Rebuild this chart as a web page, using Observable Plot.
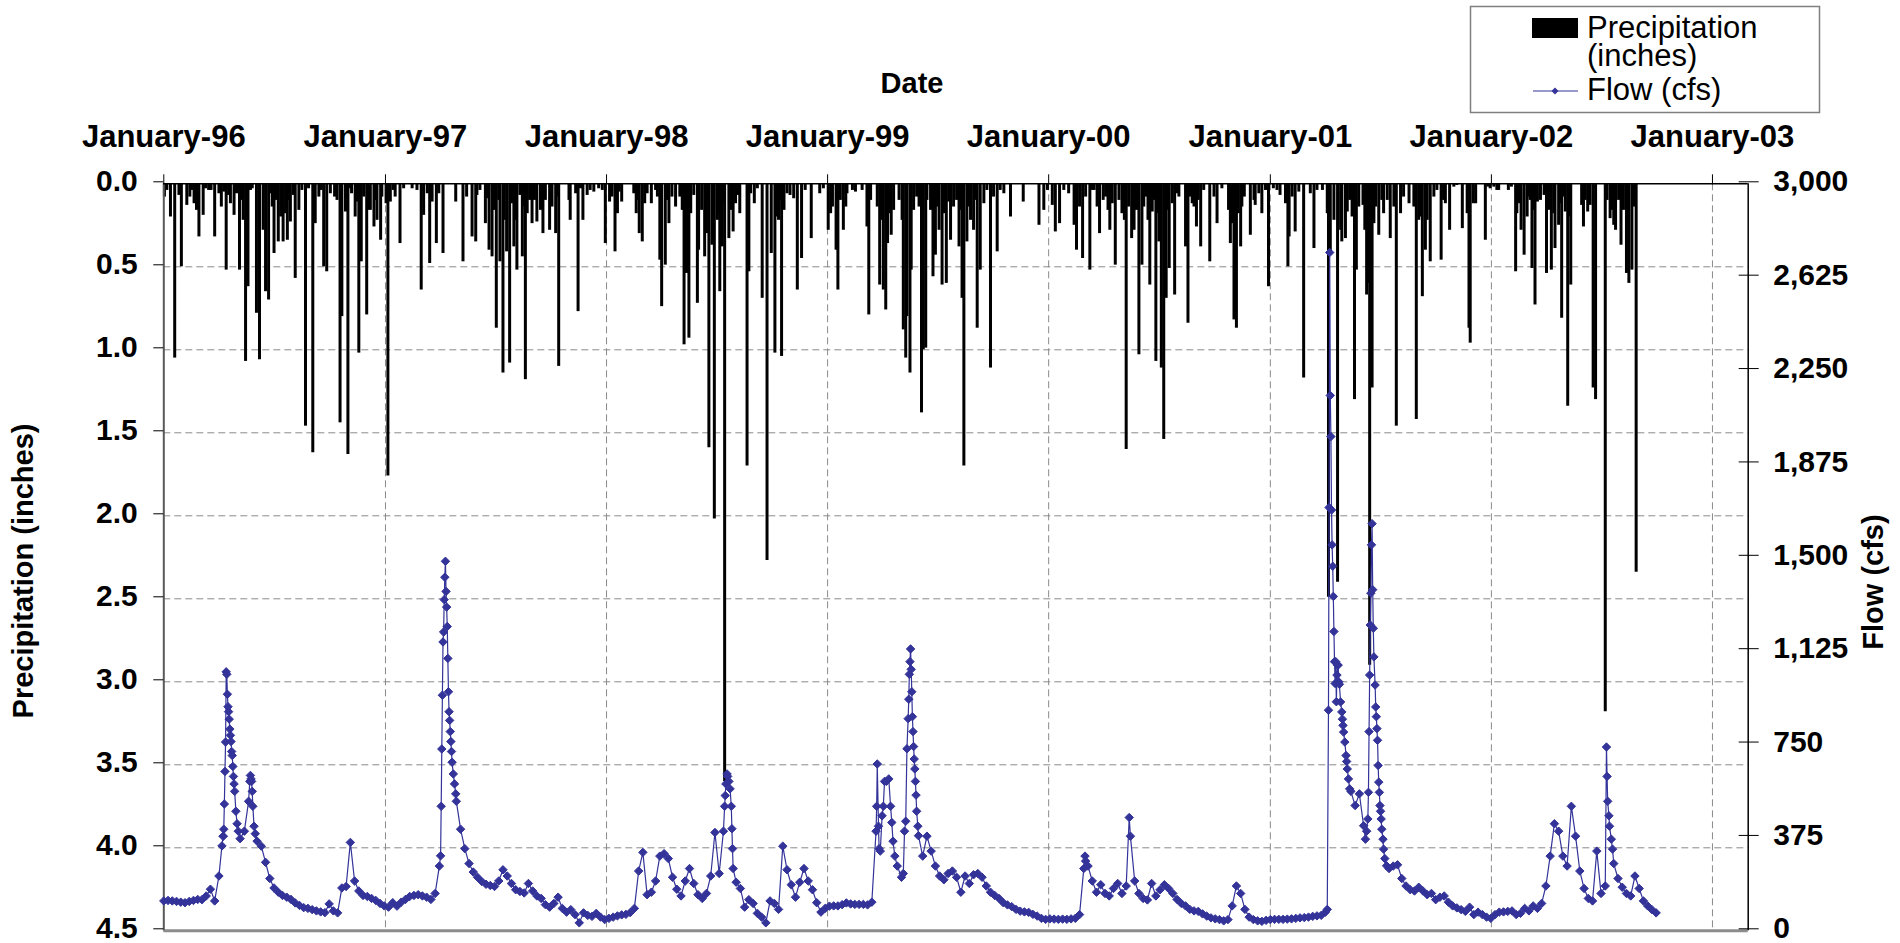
<!DOCTYPE html>
<html>
<head>
<meta charset="utf-8">
<script src="https://cdn.jsdelivr.net/npm/d3@7"></script>
<script src="https://cdn.jsdelivr.net/npm/@observablehq/plot@0.6"></script>
<style>
  html, body { margin: 0; padding: 0; background: #fff; overflow: hidden; }
  #chart { position: relative; width: 1900px; height: 943px; font-family: "Liberation Sans", Arial, sans-serif; }
  #chart svg { position: absolute; left: 0; top: 0; }
</style>
</head>
<body>
<div id="chart"></div>
<script>
// Daily precipitation, [day number counted from 1 Jan 1996, inches]
const precip1996 = [[1,0.08],[5,0.04],[11,0.2],[18,1.05],[25,0.07],[29,0.5],[38,0.13],[43,0.08],[47,0.04],[50,0.12],[54,0.16],[58,0.32],[65,0.19],[69,0.03],[74,0.04],[78,0.04],[84,0.32],[91,0.06],[95,0.14],[99,0.05],[103,0.52],[107,0.07],[110,0.12],[116,0.19],[120,0.06],[125,0.52],[129,0.1],[131,0.22],[135,1.07],[139,0.62],[143,0.04],[146,0.03],[153,0.78],[158,1.06],[164,0.28],[168,0.65],[173,0.7],[176,0.06],[179,0.14],[182,0.42],[185,0.1],[189,0.35],[193,0.2],[197,0.35],[201,0.18],[204,0.34],[206,0.1],[209,0.23],[214,0.07],[217,0.57],[223,0.16],[228,0.04],[234,1.46],[239,0.03],[246,1.62],[250,0.24],[256,0.08],[260,0.04],[264,0.5],[269,0.53],[275,0.06],[282,0.08],[286,0.1],[291,1.44],[294,0.8],[300,0.17],[304,1.63],[307,0.03],[310,0.06],[316,0.2],[319,0.11],[322,1.02],[326,0.47],[330,0.08],[335,0.79],[337,0.16],[341,0.16],[347,0.26],[349,0.1],[352,0.22],[358,0.34],[360,0.08]];
const precip1997 = [[367,0.12],[370,1.76],[374,0.11],[379,0.04],[382,0.08],[390,0.36],[396,0.03],[410,0.03],[418,0.04],[425,0.64],[429,0.19],[435,0.06],[439,0.48],[443,0.11],[450,0.36],[454,0.06],[461,0.42],[482,0.11],[494,0.47],[500,0.08],[509,0.32],[515,0.35],[517,0.07],[522,0.04],[531,0.24],[534,0.09],[537,0.4],[542,0.44],[545,0.16],[549,0.87],[553,0.1],[555,0.47],[560,1.14],[562,0.22],[566,0.41],[571,1.08],[575,0.12],[578,0.38],[581,0.22],[583,0.52],[588,0.07],[592,0.44],[594,0.14],[597,1.18],[600,0.18],[604,0.1],[608,0.24],[612,0.1],[616,0.23],[622,0.16],[626,0.3],[630,0.1],[637,0.28],[641,0.14],[647,0.3],[649,0.08],[652,1.1],[669,0.1],[671,0.22],[680,0.06],[684,0.77],[688,0.03],[692,0.22],[699,0.07],[704,0.04],[710,0.05],[718,0.03],[724,0.04],[729,0.36]];
const precip1998 = [[736,0.11],[740,0.08],[745,0.41],[749,0.18],[752,0.05],[756,0.11],[776,0.06],[780,0.18],[782,0.1],[785,0.3],[790,0.35],[794,0.12],[798,0.06],[805,0.12],[812,0.04],[815,0.08],[819,0.46],[822,0.74],[828,0.49],[831,0.1],[834,0.24],[839,0.08],[845,0.14],[852,0.08],[856,0.16],[859,0.97],[863,0.54],[867,0.93],[870,0.18],[875,0.07],[881,0.72],[883,0.4],[888,0.16],[893,0.44],[896,0.3],[898,0.1],[900,1.59],[905,0.37],[909,2.02],[914,0.22],[916,0.18],[918,0.65],[922,0.38],[925,0.12],[926,3.6],[933,0.33],[937,0.16],[940,0.29],[944,0.12],[948,0.07],[951,0.18],[963,1.7],[966,0.53],[969,0.06],[975,0.12],[980,0.03],[988,0.69],[996,2.27],[1003,0.42],[1009,1.02],[1012,0.2],[1015,0.22],[1018,0.1],[1020,1.04],[1024,0.16],[1029,0.06],[1034,0.07],[1040,0.09],[1046,0.64],[1053,0.45],[1059,0.04],[1069,0.33],[1083,0.06],[1089,0.03]];
const precip1999 = [[1097,0.28],[1101,0.18],[1104,0.14],[1110,0.4],[1113,0.64],[1117,0.1],[1122,0.28],[1126,0.14],[1128,0.06],[1137,0.04],[1142,0.05],[1153,0.04],[1161,0.26],[1164,0.79],[1167,0.1],[1178,0.14],[1182,0.61],[1186,0.22],[1188,0.64],[1192,0.76],[1195,0.36],[1197,0.18],[1201,0.31],[1205,0.16],[1214,0.1],[1219,0.22],[1221,0.88],[1225,1.05],[1227,0.8],[1232,1.14],[1234,0.52],[1238,0.16],[1243,0.08],[1247,0.14],[1251,1.38],[1254,1.0],[1258,0.99],[1260,0.1],[1266,0.16],[1270,0.56],[1274,0.43],[1277,0.14],[1280,0.28],[1285,0.61],[1288,0.18],[1292,0.6],[1296,0.11],[1299,0.34],[1304,0.14],[1309,0.1],[1313,0.38],[1315,0.16],[1318,0.69],[1321,1.7],[1326,0.35],[1329,0.14],[1332,0.22],[1337,0.28],[1340,0.1],[1343,0.87],[1348,0.52],[1354,0.12],[1359,0.04],[1365,1.11],[1370,0.08],[1376,0.41],[1381,0.04],[1387,0.06],[1398,0.2],[1419,0.11],[1445,0.25],[1453,0.16],[1459,0.04]];
const precip2000 = [[1467,0.13],[1472,0.29],[1479,0.24],[1486,0.04],[1494,0.06],[1503,0.25],[1507,0.4],[1512,0.14],[1517,0.45],[1522,0.08],[1529,0.52],[1533,0.04],[1536,0.04],[1541,0.14],[1545,0.3],[1551,0.1],[1555,0.08],[1559,0.16],[1562,0.28],[1566,0.12],[1571,0.49],[1577,0.1],[1582,0.18],[1586,0.22],[1589,1.6],[1593,0.14],[1598,0.33],[1602,0.28],[1606,0.16],[1610,1.03],[1615,0.49],[1618,0.14],[1621,0.08],[1625,0.22],[1628,0.61],[1632,0.17],[1635,0.1],[1638,1.07],[1640,0.18],[1643,0.35],[1647,1.11],[1651,1.54],[1655,0.69],[1658,0.16],[1660,0.51],[1665,0.12],[1669,0.67],[1673,0.06],[1676,0.08],[1687,0.38],[1691,0.84],[1694,0.08],[1698,0.12],[1701,0.14],[1705,0.26],[1708,0.1],[1712,0.38],[1717,0.04],[1727,0.47],[1734,0.08],[1739,0.24],[1747,0.03],[1758,0.16],[1761,0.36],[1764,0.24],[1767,0.82],[1771,0.87],[1774,0.18],[1778,0.38],[1780,0.14],[1784,0.08],[1794,0.31],[1800,0.1],[1802,0.13],[1808,0.06],[1813,0.18],[1819,0.04],[1824,0.62]];
const precip2001 = [[1832,0.03],[1838,0.04],[1843,0.07],[1852,0.12],[1856,0.5],[1858,0.32],[1863,0.08],[1868,0.29],[1874,0.05],[1882,1.17],[1893,0.06],[1899,0.39],[1904,0.04],[1913,0.04],[1921,0.18],[1923,2.49],[1926,0.43],[1932,0.22],[1938,2.4],[1943,0.28],[1945,0.35],[1951,0.33],[1954,0.17],[1958,0.1],[1962,0.2],[1966,1.3],[1969,0.52],[1973,0.14],[1980,0.13],[1983,0.28],[1986,0.67],[1990,0.6],[1991,2.9],[1995,1.23],[1998,0.24],[2001,0.14],[2006,0.31],[2011,0.1],[2014,0.18],[2020,0.1],[2025,0.33],[2031,0.14],[2035,1.46],[2042,0.18],[2047,0.08],[2056,0.12],[2064,0.14],[2068,1.42],[2072,0.22],[2074,0.2],[2078,0.68],[2083,0.4],[2086,0.22],[2091,0.47],[2097,0.08],[2102,0.04],[2109,0.46],[2113,0.1],[2116,0.12],[2123,0.28],[2130,0.02],[2135,0.01],[2144,0.27],[2152,0.18],[2155,0.87],[2157,0.96],[2162,0.12],[2166,0.12],[2182,0.34],[2186,0.02],[2190,0.03]];
const precip2002 = [[2196,0.02],[2201,0.04],[2204,0.04],[2220,0.04],[2225,0.02],[2232,0.53],[2234,0.18],[2237,0.12],[2241,0.28],[2246,0.43],[2251,0.2],[2253,0.08],[2256,0.1],[2259,0.51],[2262,0.16],[2264,0.73],[2268,0.11],[2273,0.1],[2279,0.07],[2283,0.54],[2287,0.16],[2291,0.52],[2295,0.18],[2297,0.39],[2303,0.25],[2306,0.12],[2308,0.81],[2311,0.08],[2314,0.17],[2318,1.34],[2321,0.2],[2323,0.61],[2341,0.13],[2344,0.26],[2347,0.1],[2351,0.17],[2355,0.13],[2360,1.23],[2364,1.3],[2380,3.18],[2383,0.1],[2388,0.21],[2391,0.16],[2394,0.25],[2397,0.28],[2402,0.1],[2406,0.37],[2410,0.16],[2415,0.54],[2417,0.22],[2419,0.6],[2424,0.52],[2427,0.14],[2431,2.34]];

// Weekly flow (cfs), one value every 7 days from 1 Jan 1996
const flow1996 = [120,122,120,118,115,113,118,122,126,125,140,167,120,220,380,950,720,480,370,400,520,500,360,340,275,210,172,155,142,135,126,112,102,93,90,85,80,76,73,108,80,72,172,178,355,200,160,142,138,130,122,110,100];
const flow1997 = [95,113,99,115,126,138,142,145,140,135,126,150,260,1200,1094,677,520,408,330,270,236,215,198,187,182,178,200,245,220,190,165,158,152,190,160,140,130,105,95,110,135,90,75,85,65,32,72,62,58,70,55,45];
const flow1998 = [50,55,60,64,66,73,90,240,315,145,155,200,300,310,290,215,167,140,200,250,190,145,130,150,220,395,230,400,620,410,195,170,95,125,110,70,55,32,120,110,86,340,245,185,135,195,250,200,165,113,75,90];
const flow1999 = [99,100,100,105,112,108,106,106,106,104,115,400,320,600,610,360,260,215,440,1081,690,382,300,380,320,260,220,205,230,240,215,155,220,190,225,230,215,180,155,142,130,113,104,97,86,79,76,74,66,59,50,46];
const flow2000 = [48,47,46,47,46,48,50,65,250,260,200,155,185,150,140,170,190,150,180,380,200,150,130,124,190,140,165,185,170,150,126,110,100,86,80,78,68,59,52,48,45,40,45,100,180,150,86,55,45,40,38,42];
const flow2001 = [45,46,46,46,47,48,50,52,53,55,58,60,62,75,2724,1202,1067,850,680,560,503,550,422,449,1635,860,480,290,250,260,265,210,180,165,160,175,160,145,150,125,135,140,115,100,92,85,78,95,65,75,65,55];
const flow2002 = [50,65,75,76,78,80,65,70,90,80,100,90,110,180,300,430,400,300,260,500,380,240,170,130,120,320,150,180,420,270,210,175,150,140,220,170,120,100,85,72];

// Daily flow readings during storm peaks, [day number, cfs]
const flowStorms = [[96,341],[98,380],[99,408],[100,509],[101,640],[102,758],[103,1040],[104,1030],[106,900],[107,880],[108,850],[109,810],[110,785],[111,760],[113,704],[114,660],[115,620],[116,590],[117,560],[121,430],[123,400],[142,600],[143,624],[144,610],[145,600],[146,560],[149,420],[151,390],
  [457,301],[458,500],[459,730],[460,946],[461,1160],[463,1330],[464,1420],[465,1484],[466,1363],[467,1300],[468,1222],[470,960],[471,880],[472,845],[473,800],[474,760],[475,720],[478,630],[480,590],[482,550],
  [926,500],[927,543],[928,590],[930,630],[933,600],[935,570],[937,500],[939,330],[940,250],
  [1177,500],[1178,670],[1180,420],[1181,330],[1186,462],[1188,500],[1193,600],[1200,500],[1202,435],[1207,300],[1221,230],[1223,400],[1227,731],[1229,852],[1230,930],[1231,1030],[1233,1132],[1234,1050],[1235,960],[1236,860],[1237,800],[1238,740],[1240,650],[1241,600],[1242,545],[1243,480],[1245,420],
  [1521,300],[1522,280],[1594,455],
  [1921,86],[1923,886],[1924,1700],[1926,2150],[1927,1985],[1928,1690],[1929,1550],[1930,1464],[1931,1343],[1933,1081],[1934,993],[1935,1081],[1936,920],[1937,1027],[1938,1067],[1940,1000],[1941,990],[1943,919],[1945,879],[1947,825],[1948,798],[1950,758],[1952,704],[1954,650],[1956,610],[1958,570],[1984,368],[1986,400],[1989,556],[1990,800],[1991,1027],[1992,1228],[1993,1356],[1994,1550],[1996,1370],[1997,1215],[1998,1100],[2000,987],[2001,899],[2003,812],[2004,765],[2005,664],[2006,597],[2007,556],[2008,503],[2010,449],[2011,408],[2013,368],[2014,328],[2019,261],
  [2382,738],[2383,620],[2384,520],[2386,462],[2390,368],[2392,328]];

// Axis ticks and labels
const yearTicks = ["1996-01-01","1997-01-01","1998-01-01","1999-01-01","2000-01-01","2001-01-01","2002-01-01","2003-01-01"];
const yearLabels = ["January-96","January-97","January-98","January-99","January-00","January-01","January-02","January-03"];
const precipTicks = [0, 0.5, 1, 1.5, 2, 2.5, 3, 3.5, 4, 4.5];
const precipTickLabels = ["0.0","0.5","1.0","1.5","2.0","2.5","3.0","3.5","4.0","4.5"];
const flowTicks = [0, 375, 750, 1125, 1500, 1875, 2250, 2625, 3000];
const flowTickLabels = ["0","375","750","1,125","1,500","1,875","2,250","2,625","3,000"];

const DAY = 864e5;
const T0 = Date.UTC(1996, 0, 1);
const toDate = d => new Date(T0 + d * DAY);

const precip = [precip1996, precip1997, precip1998, precip1999, precip2000, precip2001, precip2002]
  .flat().map(([d, v]) => ({date: toDate(d), inches: v}));
const weekly = [flow1996, flow1997, flow1998, flow1999, flow2000, flow2001, flow2002]
  .flat().map((v, i) => ({date: toDate(7 * i), cfs: v}));
const flow = weekly.concat(flowStorms.map(([d, v]) => ({date: toDate(d), cfs: v})))
  .sort((a, b) => a.date - b.date);

const yearDates = yearTicks.map(s => new Date(s + "T00:00:00Z"));
const xDomain = [new Date("1996-01-01T00:00:00Z"), new Date("2003-03-01T00:00:00Z")];

const frame = {width: 1900, height: 943, marginLeft: 163.3, marginRight: 152.3, marginTop: 183.3, marginBottom: 12.7};
const font = "'Liberation Sans', Arial, sans-serif";
const grid = {stroke: "#8a8a8a", strokeOpacity: 1, strokeWidth: 1, strokeDasharray: "7,4"};
const tickText = {fontSize: 30, fontWeight: "bold", label: null};

// Precipitation bars hang from the top axis (inverted scale, left axis)
const precipChart = Plot.plot({
  ...frame,
  style: {fontFamily: font, background: "#fff", color: "#000"},
  x: {type: "utc", domain: xDomain},
  y: {domain: [0, 4.5], reverse: true},
  marks: [
    Plot.gridX(yearDates.slice(1), grid),
    Plot.gridY(precipTicks.slice(1, -1), grid),
    Plot.ruleX(precip, {x: "date", y1: 0, y2: "inches", stroke: "#000", strokeWidth: 3}),
    Plot.ruleY([4.5], {stroke: "#8c8c8c", strokeWidth: 3}),
    Plot.ruleX([xDomain[0]], {stroke: "#595959", strokeWidth: 2}),
    Plot.ruleY([0], {stroke: "#000", strokeWidth: 1.5}),
    Plot.axisX(yearDates, {anchor: "top", tickSize: 10, tickPadding: 27,
      tickFormat: d => yearLabels[d.getUTCFullYear() - 1996], ...tickText, fontSize: 31}),
    Plot.axisY(precipTicks, {anchor: "left", tickSize: 10, tickPadding: 16,
      tickFormat: d => precipTickLabels[precipTicks.indexOf(d)], ...tickText, dy: -2})
  ]
});

// Flow series on the secondary (right) axis
const flowChart = Plot.plot({
  ...frame,
  style: {fontFamily: font, background: "transparent", color: "#000"},
  x: {type: "utc", domain: xDomain, axis: null},
  y: {domain: [0, 3000]},
  marks: [
    Plot.line(flow, {x: "date", y: "cfs", stroke: "#333399", strokeWidth: 1.2}),
    Plot.dot(flow, {x: "date", y: "cfs", symbol: "diamond2", r: 3.8, fill: "#333399", stroke: "#333399", strokeWidth: 1}),
    Plot.ruleX([xDomain[1]], {stroke: "#000", strokeWidth: 1.5}),
    Plot.axisY(flowTicks, {anchor: "right", tickSize: 20, dx: -10, tickPadding: 15,
      tickFormat: d => flowTickLabels[flowTicks.indexOf(d)], ...tickText, dy: -2})
  ]
});

const chart = document.getElementById("chart");
chart.appendChild(precipChart);
chart.appendChild(flowChart);

// Titles and legend
const svg = d3.select(flowChart);
const title = (txt, x, y, rotate) => svg.append("text")
  .attr("transform", `translate(${x},${y})` + (rotate ? " rotate(-90)" : ""))
  .attr("text-anchor", "middle")
  .attr("dy", rotate ? "0.35em" : null)
  .attr("font-family", font).attr("font-size", 29).attr("font-weight", "bold")
  .attr("fill", "#000").text(txt);
title("Date", 912, 93, false);
title("Precipitation (inches)", 23, 571, true);
title("Flow (cfs)", 1873, 582, true);

const legend = svg.append("g").attr("font-family", font).attr("font-size", 31)
  .attr("font-weight", "normal").attr("text-anchor", "start").attr("fill", "#000");
legend.append("rect").attr("x", 1470.5).attr("y", 6.5).attr("width", 349).attr("height", 106)
  .attr("fill", "#fff").attr("stroke", "#7f7f7f").attr("stroke-width", 1.5);
legend.append("rect").attr("x", 1532).attr("y", 18).attr("width", 46).attr("height", 20).attr("fill", "#000");
legend.append("text").attr("x", 1587).attr("y", 38).text("Precipitation");
legend.append("text").attr("x", 1587).attr("y", 66).text("(inches)");
legend.append("text").attr("x", 1587).attr("y", 100).text("Flow (cfs)");
legend.append("line").attr("x1", 1533).attr("x2", 1578).attr("y1", 91).attr("y2", 91)
  .attr("stroke", "#333399").attr("stroke-width", 1);
legend.append("path").attr("transform", "translate(1555,91)")
  .attr("d", d3.symbol(d3.symbolDiamond2, 31)()).attr("fill", "#333399");
</script>
</body>
</html>
